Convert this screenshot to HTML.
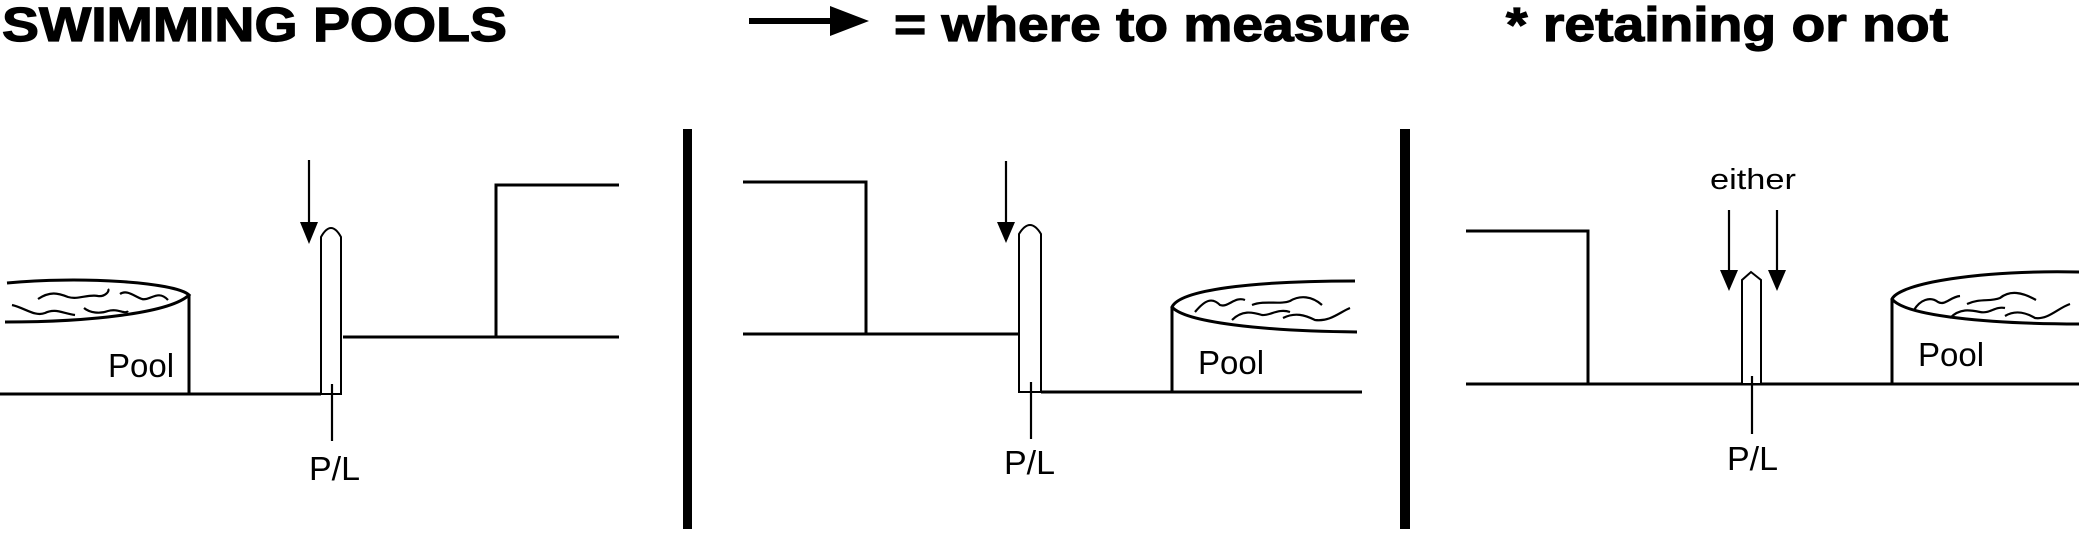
<!DOCTYPE html>
<html><head><meta charset="utf-8"><style>
html,body{margin:0;padding:0;background:#fff;}
svg{display:block;}
text{font-family:"Liberation Sans",Arial,sans-serif;fill:#000;}
</style></head><body>
<svg width="2079" height="537" viewBox="0 0 2079 537" xmlns="http://www.w3.org/2000/svg">
<g font-weight="bold" font-size="48" stroke="#000" stroke-width="1.2">
<text x="2" y="41" textLength="505" lengthAdjust="spacingAndGlyphs">SWIMMING POOLS</text>
<text x="894" y="41" textLength="516" lengthAdjust="spacingAndGlyphs">= where to measure</text>
<text x="1506" y="41" textLength="442" lengthAdjust="spacingAndGlyphs">* retaining or not</text>
</g>
<rect x="749" y="18" width="84" height="6"/>
<polygon points="830,6 869,21 830,36"/>
<rect x="683" y="129" width="9" height="400"/>
<rect x="1400" y="129" width="10" height="400"/>
<g fill="none" stroke="#000" stroke-width="3">
<path d="M0,394 L321,394"/>
<path d="M7,283 C80,276 175,282 189,295 C170,313 90,322 5,322"/>
<path d="M189,295 L189,394"/>
<path d="M343,337 L619,337 M496,337 L496,185 L619,185"/>
<path d="M743,182 L866,182 L866,334 M743,334 L1019,334"/>
<path d="M1041,392 L1362,392"/>
<path d="M1355,281 C1250,281 1180,290 1172,307 C1185,322 1260,331 1357,332"/>
<path d="M1172,307 L1172,392"/>
<path d="M1466,231 L1588,231 L1588,384 M1466,384 L2079,384"/>
<path d="M2079,272 C1980,270 1900,283 1892,299 C1905,316 1990,324 2079,324"/>
<path d="M1892,299 L1892,384"/>
</g>
<g fill="none" stroke="#000" stroke-width="2.2">
<path d="M12,305 C25,308 35,317 45,313 C55,308 62,313 75,315"/>
<path d="M38,299 C50,291 58,293 68,297 C78,300 88,294 98,296 C105,297 110,291 108,289"/>
<path d="M84,308 C90,313 100,314 108,311 C118,308 125,315 128,311"/>
<path d="M120,294 C127,289 135,297 142,299 C150,301 158,289 168,300"/>
<path d="M1195,312 C1205,300 1212,297 1220,305 C1228,308 1235,296 1245,300"/>
<path d="M1252,305 C1265,300 1280,305 1290,301 C1300,295 1312,296 1322,305"/>
<path d="M1232,320 C1242,310 1252,312 1262,315 C1270,316 1278,308 1290,312"/>
<path d="M1283,318 C1295,312 1305,315 1315,320 C1330,322 1340,312 1350,308"/>
<path d="M1914,310 C1920,300 1930,296 1938,302 C1945,306 1950,297 1960,296"/>
<path d="M1967,304 C1980,298 1990,302 2000,298 C2010,290 2022,292 2036,300"/>
<path d="M1950,318 C1960,308 1970,310 1980,312 C1990,314 1995,306 2005,308"/>
<path d="M2005,316 C2015,310 2025,312 2035,318 C2048,320 2058,308 2070,304"/>
</g>
<g fill="#fff" stroke="#000" stroke-width="2">
<path d="M321,394 L321,237 Q331,219 341,237 L341,394 Z"/>
<path d="M1019,392 L1019,234 Q1030,216 1041,234 L1041,392 Z"/>
<path d="M1742,384 L1742,280 L1751,272 L1761,280 L1761,384 Z"/>
</g>
<g stroke="#000" stroke-width="2.2">
<line x1="309" y1="160" x2="309" y2="228"/>
<line x1="1006" y1="161" x2="1006" y2="228"/>
<line x1="1729" y1="210" x2="1729" y2="276"/>
<line x1="1777" y1="210" x2="1777" y2="276"/>
<line x1="332" y1="384" x2="332" y2="441"/>
<line x1="1031" y1="382" x2="1031" y2="439"/>
<line x1="1752" y1="376" x2="1752" y2="434"/>
</g>
<polygon points="300,222 318,222 309,244"/>
<polygon points="997,222 1015,222 1006,243"/>
<polygon points="1720,270 1738,270 1729,291"/>
<polygon points="1768,270 1786,270 1777,291"/>
<g font-size="33">
<text x="108" y="377">Pool</text>
<text x="1198" y="374">Pool</text>
<text x="1918" y="366">Pool</text>
<text x="309" y="480" textLength="51" lengthAdjust="spacingAndGlyphs">P/L</text>
<text x="1004" y="474" textLength="51" lengthAdjust="spacingAndGlyphs">P/L</text>
<text x="1727" y="470" textLength="51" lengthAdjust="spacingAndGlyphs">P/L</text>
</g>
<text x="1710" y="189" font-size="29" textLength="86" lengthAdjust="spacingAndGlyphs">either</text>
</svg>
</body></html>
